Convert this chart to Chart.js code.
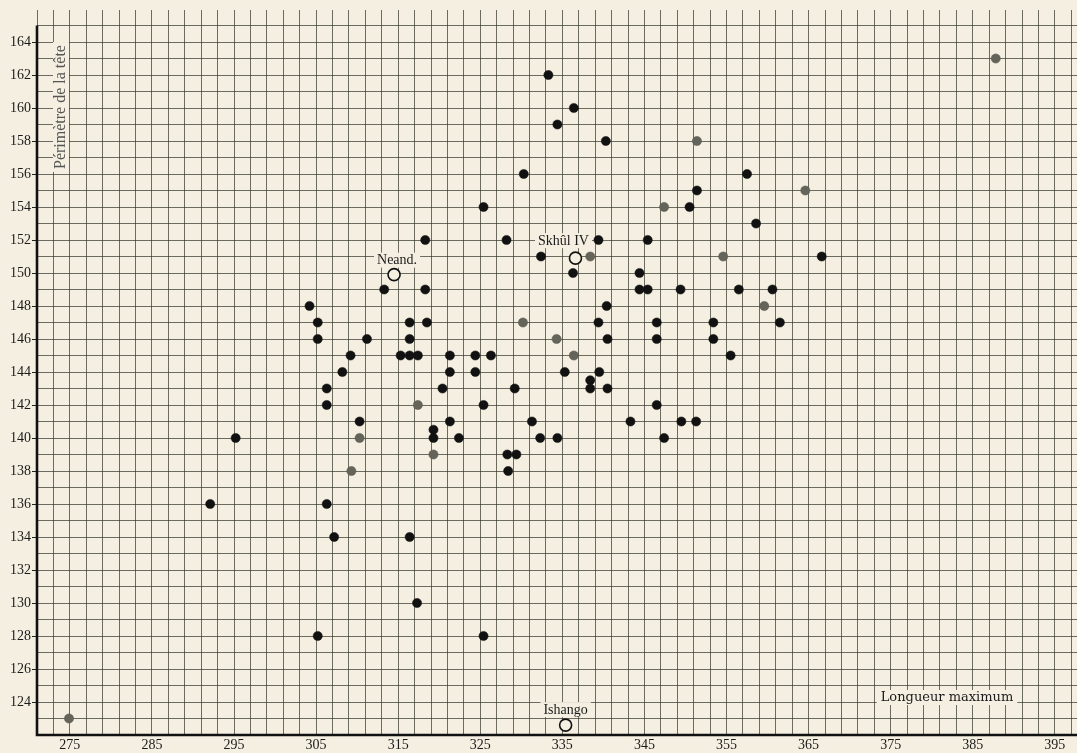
<!DOCTYPE html>
<html><head><meta charset="utf-8">
<script src="https://cdn.jsdelivr.net/npm/chart.js@4/dist/chart.umd.min.js"></script>
<style>
html,body{margin:0;padding:0;background:#f5efe1;overflow:hidden}
#wrap{width:1077px;height:753px;position:relative}
</style>
</head><body><div id="wrap"><canvas id="c" width="1077" height="753"></canvas></div>
<script>
// ---- data ----
const xTickLabels = [275,285,295,305,315,325,335,345,355,365,375,385,395];
const yTickLabels = [124,126,128,130,132,134,136,138,140,142,144,146,148,150,152,154,156,158,160,162,164];

const blackPoints = [
  [292.1,136],[295.2,140],
  [304.2,148],[305.2,147],[305.2,146],[305.2,128],[306.3,143],[306.3,142],[306.3,136],[307.2,134],
  [308.2,144],[309.2,145],[310.3,141],[311.2,146],
  [313.3,149],[316.4,147],[316.4,146],[315.3,145],[316.4,145],[317.4,145],[316.4,134],[317.3,130],
  [318.3,152],[318.3,149],[318.5,147],
  [319.3,140.5],[319.3,140],[320.4,143],[321.3,145],[321.3,144],[321.3,141],[322.4,140],
  [324.4,145],[324.4,144],[325.4,142],[326.3,145],[325.4,154],[325.4,128],
  [328.2,152],[328.3,139],[329.4,139],[328.4,138],[329.2,143],[330.3,156],[331.3,141],[332.4,151],[332.3,140],
  [333.3,162],[334.4,159],[336.4,160],[334.4,140],[335.3,144],[336.3,150],
  [338.4,143.5],[338.4,143],[339.4,152],[339.4,147],[339.5,144],[340.3,158],[340.4,148],[340.5,146],[340.5,143],
  [343.3,141],[344.4,150],[344.4,149],[345.4,149],[345.4,152],[346.5,147],[346.5,146],[346.5,142],[347.4,140],
  [349.4,149],[349.5,141],[350.5,154],[351.4,155],[351.3,141],[353.4,147],[353.4,146],[355.5,145],
  [356.5,149],[357.5,156],[358.6,153],[360.6,149],[361.5,147],[366.6,151]
];
const grayPoints = [
  [274.9,123],[310.3,140],[309.3,138],[317.4,142],[319.3,139],[330.2,147],[334.3,146],[336.4,145],
  [338.4,151],[347.4,154],[351.4,158],[354.6,151],[359.6,148],[364.6,155],[387.8,163]
];
const openNames = ['Neand.','Skhûl IV','Ishango'];
const openX = [314.5,336.6,335.4];
const openY = [149.9,150.9,122.6];

const xTitle = 'Longueur maximum';
const yTitle = 'Périmètre de la tête';

// ---- chart ----
const X_MIN = 271, X_MAX = 397.7, Y_MIN = 122, Y_MAX = 165.94, Y_TOP_LINE = 165;
const BG = '#f5efe1';
const GRID = 'rgba(55,55,45,0.72)';
const SERIF = '"Liberation Serif", "DejaVu Serif", serif';

const toPts = arr => arr.map(p => ({x:p[0], y:p[1]}));

const paperPlugin = {
  id:'paper',
  beforeDraw(chart){
    const c = chart.ctx;
    c.save(); c.fillStyle = BG; c.fillRect(0,0,chart.width,chart.height); c.restore();
  },
  beforeDatasetsDraw(chart){
    const c = chart.ctx, xs = chart.scales.x, ys = chart.scales.y, a = chart.chartArea;
    c.save();
    c.strokeStyle = '#111'; c.lineWidth = 2.6;
    c.beginPath();
    c.moveTo(a.left, ys.getPixelForValue(Y_TOP_LINE)); c.lineTo(a.left, a.bottom);
    c.lineTo(a.right, a.bottom);
    c.stroke();

    function masked(text, cx, cy, font, color, pad){
      c.font = font;
      const w = c.measureText(text).width;
      c.fillStyle = BG;
      c.fillRect(cx - w/2 - pad, cy - 8, w + 2*pad, 15);
      c.fillStyle = color; c.textAlign = 'center'; c.textBaseline = 'middle';
      c.fillText(text, cx, cy);
    }
    const offs = [[3,-14],[-12,-17],[0,-15]];
    openNames.forEach((n,i)=>{
      const px = xs.getPixelForValue(openX[i]), py = ys.getPixelForValue(openY[i]);
      masked(n, px+offs[i][0], py+offs[i][1], '14px '+SERIF, '#1a1a1a', 3);
    });
    masked(xTitle, 947, 698, '13px "DejaVu Serif", serif', '#1a1a1a', 4);
    c.save();
    c.translate(61, 107); c.rotate(-Math.PI/2);
    c.font = '16px '+SERIF;
    const w = c.measureText(yTitle).width;
    c.fillStyle = BG; c.fillRect(-w/2-3, -8, w+6, 16);
    c.fillStyle = '#555'; c.textAlign='center'; c.textBaseline='middle';
    c.fillText(yTitle, 0, 0);
    c.restore();
    c.restore();
  }
};

function gridValues(start, end, step){ const v=[]; for(let t=start; t<=end+1e-9; t+=step) v.push(t); return v; }
function noPad(s){ s.paddingLeft = 0; s.paddingRight = 0; s.paddingTop = 0; s.paddingBottom = 0; }

new Chart(document.getElementById('c'), {
  type:'scatter',
  data:{
    datasets:[
      { label:'noirs', data:toPts(blackPoints), pointRadius:4.6, pointBackgroundColor:'#111', pointBorderColor:'#111', pointBorderWidth:0.5 },
      { label:'gris', data:toPts(grayPoints), pointRadius:4.6, pointBackgroundColor:'#64645a', pointBorderColor:'#55554c', pointBorderWidth:0.5 },
      { label:'fossiles', data:openX.map((x,i)=>({x, y:openY[i]})), pointRadius:6, pointBackgroundColor:BG, pointBorderColor:'#111', pointBorderWidth:1.6 }
    ]
  },
  options:{
    responsive:false, animation:false, devicePixelRatio:1,
    layout:{autoPadding:false, padding:{top:10,left:0,right:0,bottom:0}},
    plugins:{legend:{display:false}, tooltip:{enabled:false}},
    scales:{
      x:{
        type:'linear', min:X_MIN, max:X_MAX,
        afterBuildTicks(s){ s.ticks = gridValues(271, 397, 2).map(v=>({value:v})); },
        afterFit(s){ s.height = 18; noPad(s); },
        ticks:{ autoSkip:false, maxRotation:0, padding:2, color:'#1a1a1a', font:{family:SERIF, size:14},
          callback:v => xTickLabels.includes(v) ? String(v) : '' },
        grid:{ color:GRID, lineWidth:1, drawTicks:false },
        border:{ display:false }
      },
      y:{
        type:'linear', min:Y_MIN, max:Y_MAX,
        afterBuildTicks(s){ s.ticks = gridValues(122, 165, 1).map(v=>({value:v})); },
        afterFit(s){ s.width = 37; noPad(s); },
        ticks:{ autoSkip:false, padding:1, color:'#1a1a1a', font:{family:SERIF, size:14},
          callback:v => yTickLabels.includes(v) ? String(v) : '' },
        grid:{ color:GRID, lineWidth:1, drawTicks:true, tickLength:5,
          tickColor: ctx => (ctx.tick && yTickLabels.includes(ctx.tick.value)) ? '#222' : 'rgba(0,0,0,0)' },
        border:{ display:false }
      }
    }
  },
  plugins:[paperPlugin]
});
</script>
</body></html>
